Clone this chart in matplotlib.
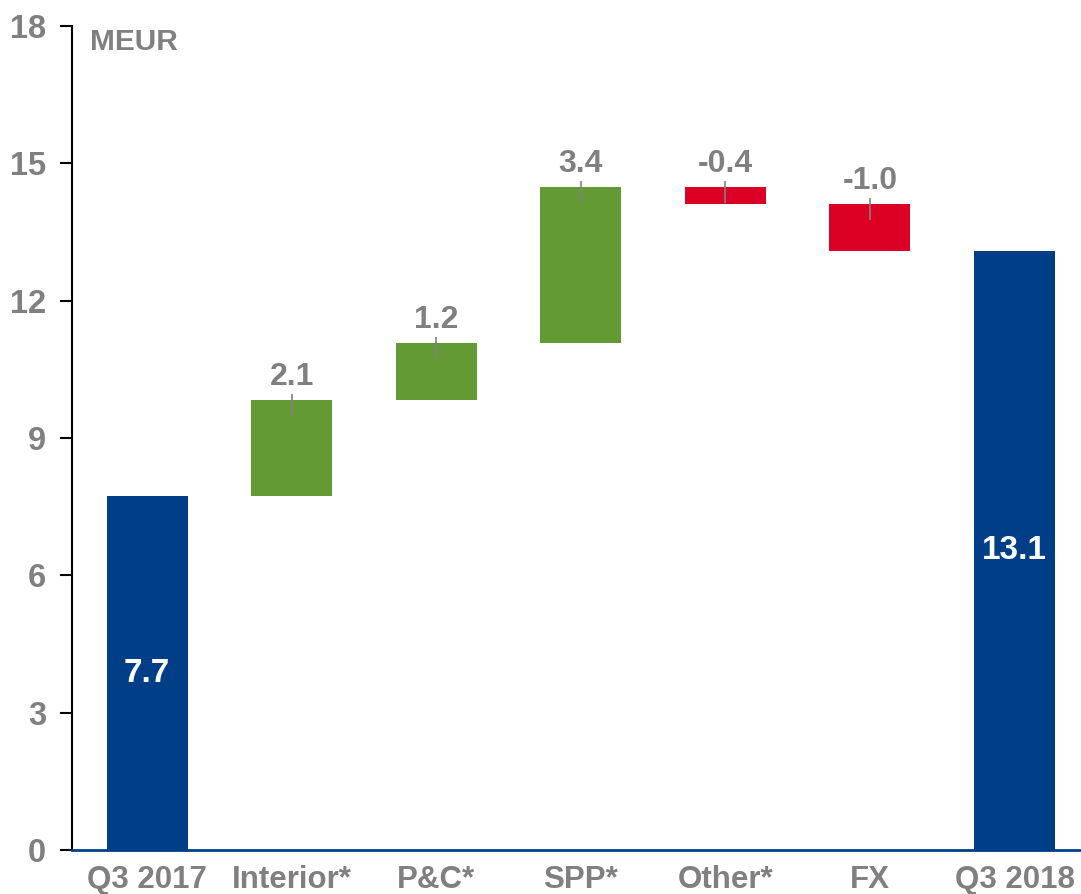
import numpy as np
import matplotlib
matplotlib.use("Agg")
import matplotlib.pyplot as plt

# Waterfall Q3 2017 -> Q3 2018 (MEUR)
categories = ["Q3 2017", "Interior*", "P&C*", "SPP*", "Other*", "FX", "Q3 2018"]
start_value = 7.73
deltas = [2.10, 1.24, 3.41, -0.36, -1.04]
yticks = [0, 3, 6, 9, 12, 15, 18]

BLUE = "#003f87"
GREEN = "#639a34"
RED = "#dc0024"
GREY = "#808080"

plt.rcParams.update({
    "font.family": ["Liberation Sans", "DejaVu Sans"],
    "font.weight": "bold",
})

end_value = start_value + sum(deltas)
cum = np.concatenate([[start_value], start_value + np.cumsum(deltas)])
bottoms = [0] + [min(cum[i], cum[i + 1]) for i in range(len(deltas))] + [0]
heights = [start_value] + [abs(d) for d in deltas] + [end_value]
colors = [BLUE] + [GREEN if d >= 0 else RED for d in deltas] + [BLUE]
tops = [b + h for b, h in zip(bottoms, heights)]

fig = plt.figure(figsize=(10.81, 8.94), dpi=100)
ax = fig.add_axes([0.0666, 0.0492, 0.9334, 0.9217])
x = np.arange(len(categories))
ax.bar(x, heights, bottom=bottoms, width=0.56, color=colors, zorder=2)

# totals inside
for i in (0, len(categories) - 1):
    ax.text(x[i], heights[i] / 2, f"{heights[i]:.1f}", ha="center", va="center",
            color="white", fontsize=24, fontweight="bold", zorder=3)

# deltas above with small leader marks
for i, d in enumerate(deltas, start=1):
    ax.vlines(x[i], tops[i] - 0.35, tops[i] + 0.13, color=GREY, lw=1.2, zorder=3)
    ax.text(x[i], tops[i] + 0.5, f"{d:.1f}", ha="center", va="center",
            color=GREY, fontsize=23, fontweight="bold")

ax.set_xlim(-0.52, 6.46)
ax.set_ylim(0, 18)
ax.set_yticks(yticks)
ax.set_xticks(x)
ax.set_xticklabels(categories)
ax.tick_params(axis="x", length=0, pad=11, labelsize=22.5, labelcolor=GREY)
ax.tick_params(axis="y", length=9, width=1.5, pad=9.5, labelsize=23.5, labelcolor=GREY)
for s in ("top", "right"):
    ax.spines[s].set_visible(False)
ax.spines["left"].set_linewidth(1.5)
ax.spines["bottom"].set_color(BLUE)
ax.spines["bottom"].set_linewidth(2)
ax.spines["bottom"].set_zorder(4)

ax.text(0.018, 17.65, "MEUR", transform=ax.get_yaxis_transform(),
        ha="left", va="center", color=GREY, fontsize=21.5, fontweight="bold")

fig.savefig("out.png", dpi=100)
